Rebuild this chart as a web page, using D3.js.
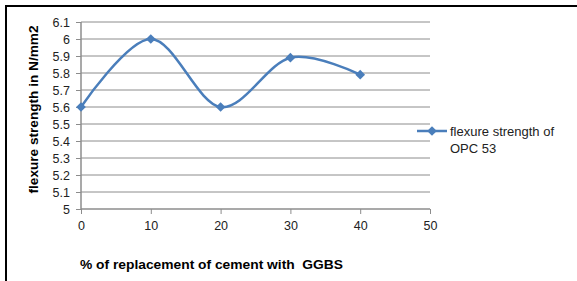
<!DOCTYPE html>
<html>
<head>
<meta charset="utf-8">
<script src="https://cdn.jsdelivr.net/npm/d3@7"></script>
<style>
  body { margin: 0; background: #fff; }
  text { font-family: "Liberation Sans", Arial, sans-serif; }
</style>
</head>
<body>
<script>
// chart data
const replacement = [0, 10, 20, 30, 40];
const strength = [5.6, 6.0, 5.6, 5.89, 5.79];
const xTicks = [0, 10, 20, 30, 40, 50];
const yTicks = [5, 5.1, 5.2, 5.3, 5.4, 5.5, 5.6, 5.7, 5.8, 5.9, 6, 6.1];
const seriesName = ['flexure strength of', 'OPC 53'];

const W = 577, H = 281;
const margin = { top: 22, left: 81, right: 147, bottom: 72 };
const blue = '#4a7ebb';
const tickFont = '"Open Sans", "Liberation Sans", sans-serif';

const svg = d3.select('body').append('svg')
  .attr('width', W).attr('height', H);

// outer frame (top and left edges visible)
svg.append('path')
  .attr('d', `M6,${H} L6,6 L${W},6`)
  .attr('fill', 'none').attr('stroke', '#000').attr('stroke-width', 2);

const x = d3.scaleLinear().domain([0, 50]).range([margin.left, W - margin.right]);
const y = d3.scaleLinear().domain([5, 6.1]).range([H - margin.bottom, margin.top]);

// gridlines
svg.append('g').selectAll('line').data(yTicks.slice(1)).join('line')
  .attr('x1', x(0)).attr('x2', x(50))
  .attr('y1', d => y(d)).attr('y2', d => y(d))
  .attr('stroke', '#8c8c8c').attr('stroke-width', 1);

const yAxis = svg.append('g')
  .attr('transform', `translate(${x(0)},0)`)
  .call(d3.axisLeft(y).tickValues(yTicks).tickSize(5).tickPadding(6)
    .tickFormat(d => d3.format('~g')(d)));
const xAxis = svg.append('g')
  .attr('transform', `translate(0,${y(5)})`)
  .call(d3.axisBottom(x).tickValues(xTicks).tickSize(5).tickPadding(7));

[yAxis, xAxis].forEach(g => {
  g.select('.domain').attr('stroke', '#8c8c8c').attr('stroke-width', 1.5);
  g.selectAll('.tick line').attr('stroke', '#8c8c8c');
  g.selectAll('.tick text').attr('fill', '#222').attr('font-size', 12.5)
    .attr('font-family', tickFont);
});
yAxis.select('.domain').attr('d', `M0,${y(6.1)}V${y(5)}`);
xAxis.select('.domain').attr('d', `M${x(0)},0H${x(50)}`);

// series
const pts = replacement.map((r, i) => [r, strength[i]]);
const line = d3.line()
  .curve(d3.curveCatmullRom.alpha(0))
  .x(d => x(d[0])).y(d => y(d[1]));
svg.append('path').datum(pts)
  .attr('d', line)
  .attr('fill', 'none').attr('stroke', blue).attr('stroke-width', 2.5);

const diamond = d3.symbol().type(d3.symbolDiamond2).size(60);
svg.append('g').selectAll('path').data(pts).join('path')
  .attr('transform', d => `translate(${x(d[0])},${y(d[1])})`)
  .attr('d', diamond).attr('fill', blue);

// axis titles
svg.append('text')
  .attr('transform', `translate(38,${(y(6.1) + y(5)) / 2 - 6}) rotate(-90)`)
  .attr('text-anchor', 'middle')
  .attr('font-weight', 'bold').attr('font-size', 13)
  .attr('textLength', 168).attr('lengthAdjust', 'spacingAndGlyphs')
  .text('flexure strength in N/mm2');

svg.append('text')
  .attr('x', 80).attr('y', 269)
  .attr('font-weight', 'bold').attr('font-size', 13)
  .attr('textLength', 263).attr('lengthAdjust', 'spacingAndGlyphs')
  .attr('xml:space', 'preserve')
  .text('% of replacement of cement with  GGBS');

// legend
const lg = svg.append('g').attr('transform', 'translate(417,131)');
lg.append('line').attr('x1', 0).attr('x2', 30).attr('stroke', blue).attr('stroke-width', 2.5);
lg.append('path').attr('transform', 'translate(15,0)').attr('d', diamond).attr('fill', blue);
lg.selectAll('text').data(seriesName).join('text')
  .attr('x', 33).attr('y', (d, i) => 5 + i * 17)
  .attr('font-size', 13).attr('fill', '#222')
  .attr('font-family', tickFont)
  .text(d => d);
</script>
</body>
</html>
